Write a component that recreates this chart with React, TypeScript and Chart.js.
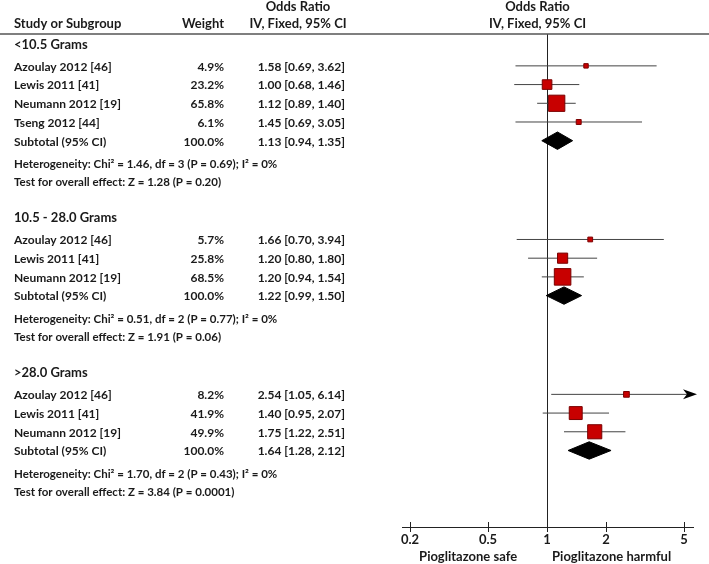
import { useEffect, useRef } from 'react';
import { Chart, registerables } from 'chart.js';

Chart.register(...registerables);

const FONT = "Lato, 'DejaVu Sans', sans-serif";

// ---------- data ----------
const groupNames = ['<10.5 Grams', '10.5 - 28.0 Grams', '>28.0 Grams'];
const studyNames = [
  ['Azoulay 2012 [46]', 'Lewis 2011 [41]', 'Neumann 2012 [19]', 'Tseng 2012 [44]'],
  ['Azoulay 2012 [46]', 'Lewis 2011 [41]', 'Neumann 2012 [19]'],
  ['Azoulay 2012 [46]', 'Lewis 2011 [41]', 'Neumann 2012 [19]'],
];
const studyWeights = [
  [4.9, 23.2, 65.8, 6.1],
  [5.7, 25.8, 68.5],
  [8.2, 41.9, 49.9],
];
const studyOR = [
  [1.58, 1.0, 1.12, 1.45],
  [1.66, 1.2, 1.2],
  [2.54, 1.4, 1.75],
];
const studyLower = [
  [0.69, 0.68, 0.89, 0.69],
  [0.7, 0.8, 0.94],
  [1.05, 0.95, 1.22],
];
const studyUpper = [
  [3.62, 1.46, 1.4, 3.05],
  [3.94, 1.8, 1.54],
  [6.14, 2.07, 2.51],
];
const subtotalWeight = [100.0, 100.0, 100.0];
const subtotalOR = [1.13, 1.22, 1.64];
const subtotalLower = [0.94, 0.99, 1.28];
const subtotalUpper = [1.35, 1.5, 2.12];
const hetChi2 = ['1.46', '0.51', '1.70'];
const hetDf = [3, 2, 2];
const hetP = ['0.69', '0.77', '0.43'];
const hetI2 = [0, 0, 0];
const effectZ = ['1.28', '1.91', '3.84'];
const effectP = ['0.20', '0.06', '0.0001'];
const tickValues = [0.2, 0.5, 1, 2, 5];
const tickLabels = ['0.2', '0.5', '1', '2', '5'];
const axisMin = 0.182;
const axisMax = 5.55;
const leftLabel = 'Pioglitazone safe';
const rightLabel = 'Pioglitazone harmful';

// ---------- layout (row positions in row units) ----------
type Row = { kind: 'group' | 'study' | 'subtotal' | 'het' | 'test'; y: number; g: number; s: number };
const rows: Row[] = [];
(() => {
  let y = 0.45;
  groupNames.forEach((_, g) => {
    if (g > 0) y += 1.9;
    rows.push({ kind: 'group', y, g, s: -1 });
    y += 1.2;
    studyNames[g].forEach((__, s) => {
      if (s > 0) y += 1.0;
      rows.push({ kind: 'study', y, g, s });
    });
    y += 1.0;
    rows.push({ kind: 'subtotal', y, g, s: -1 });
    y += 1.2;
    rows.push({ kind: 'het', y, g, s: -1 });
    y += 0.98;
    rows.push({ kind: 'test', y, g, s: -1 });
  });
})();
const Y_MAX = 26.3;
const DIAMOND_HALF = 0.465;

const f2 = (v: number) => v.toFixed(2);
const ciText = (or: number, lo: number, hi: number) => `${f2(or)} [${f2(lo)}, ${f2(hi)}]`;

export default function App() {
  const ref = useRef<HTMLCanvasElement | null>(null);

  useEffect(() => {
    document.body.style.margin = '0';
    const canvas = ref.current;
    if (!canvas) return;

    const studyRows = rows.filter((r) => r.kind === 'study');
    const subRows = rows.filter((r) => r.kind === 'subtotal');

    const squares = {
      label: 'studies',
      data: studyRows.map((r) => ({ x: studyOR[r.g][r.s], y: r.y })),
      pointStyle: 'rect',
      pointRadius: studyRows.map((r) => Math.sqrt(studyWeights[r.g][r.s]) * 1.414),
      backgroundColor: '#c80000',
      borderColor: '#7a0000',
      borderWidth: 1,
      showLine: false,
      order: 0,
    };

    const ciLines = studyRows.map((r) => ({
      label: 'ci',
      data: [
        { x: studyLower[r.g][r.s], y: r.y },
        { x: studyUpper[r.g][r.s], y: r.y },
      ],
      showLine: true,
      borderColor: '#444',
      borderWidth: 1,
      pointRadius: 0,
      order: 2,
    }));

    const diamonds = subRows.map((r) => ({
      label: 'subtotal',
      data: [
        { x: subtotalLower[r.g], y: r.y },
        { x: subtotalOR[r.g], y: r.y - DIAMOND_HALF },
        { x: subtotalUpper[r.g], y: r.y },
        { x: subtotalOR[r.g], y: r.y + DIAMOND_HALF },
        { x: subtotalLower[r.g], y: r.y },
      ],
      showLine: true,
      fill: 'shape',
      backgroundColor: '#000',
      borderColor: '#000',
      borderWidth: 1,
      pointRadius: 0,
      tension: 0,
      order: 1,
    }));

    const forestPlugin = {
      id: 'forest',
      beforeDatasetsDraw(chart: any) {
        const { ctx, chartArea, scales } = chart;
        const x1 = Math.round(scales.x.getPixelForValue(1)) + 0.5;
        ctx.save();
        ctx.strokeStyle = '#222';
        ctx.lineWidth = 1;
        ctx.beginPath();
        ctx.moveTo(x1, chartArea.top - 1);
        ctx.lineTo(x1, chartArea.bottom);
        ctx.stroke();
        ctx.restore();
      },
      afterDatasetsDraw(chart: any) {
        const { ctx, scales } = chart;
        ctx.save();
        ctx.fillStyle = '#000';
        studyRows.forEach((r) => {
          if (studyUpper[r.g][r.s] > scales.x.max) {
            const y = scales.y.getPixelForValue(r.y);
            const tip = scales.x.right + 4;
            ctx.beginPath();
            ctx.moveTo(tip, y);
            ctx.lineTo(tip - 14, y - 5);
            ctx.lineTo(tip - 10, y);
            ctx.lineTo(tip - 14, y + 5);
            ctx.closePath();
            ctx.fill();
          }
        });
        ctx.restore();
      },
      afterDraw(chart: any) {
        const { ctx, chartArea, scales, width } = chart;
        const xs = scales.x;
        const ys = scales.y;
        ctx.save();
        // upper halves of axis ticks
        ctx.strokeStyle = '#222';
        ctx.lineWidth = 1;
        tickValues.forEach((v) => {
          const x = Math.round(xs.getPixelForValue(v)) + 0.5;
          ctx.beginPath();
          ctx.moveTo(x, chartArea.bottom - 5);
          ctx.lineTo(x, chartArea.bottom);
          ctx.stroke();
        });

        // header rule
        ctx.strokeStyle = '#555';
        ctx.lineWidth = 1.5;
        ctx.beginPath();
        ctx.moveTo(0, chartArea.top - 1);
        ctx.lineTo(width, chartArea.top - 1);
        ctx.stroke();

        ctx.fillStyle = '#1a1a1a';
        ctx.textBaseline = 'middle';
        const x1 = xs.getPixelForValue(1);
        const plotCenter = (xs.left + xs.right) / 2 - 10;
        const hTop = chartArea.top - 28;
        const hBot = chartArea.top - 11;

        ctx.font = `bold 13px ${FONT}`;
        ctx.textAlign = 'left';
        ctx.fillText('Study or Subgroup', 14, hBot);
        ctx.textAlign = 'right';
        ctx.fillText('Weight', 224, hBot);
        ctx.textAlign = 'center';
        ctx.fillText('Odds Ratio', 298, hTop);
        ctx.fillText('IV, Fixed, 95% CI', 298, hBot);
        ctx.fillText('Odds Ratio', plotCenter, hTop);
        ctx.fillText('IV, Fixed, 95% CI', plotCenter, hBot);

        rows.forEach((r) => {
          const y = ys.getPixelForValue(r.y) + 1;
          if (r.kind === 'group') {
            ctx.font = `bold 13px ${FONT}`;
            ctx.textAlign = 'left';
            ctx.fillText(groupNames[r.g], 14, y);
          } else if (r.kind === 'study') {
            ctx.font = `bold 12px ${FONT}`;
            ctx.textAlign = 'left';
            ctx.fillText(studyNames[r.g][r.s], 14, y);
            ctx.textAlign = 'right';
            ctx.fillText(`${studyWeights[r.g][r.s].toFixed(1)}%`, 224, y);
            ctx.fillText(ciText(studyOR[r.g][r.s], studyLower[r.g][r.s], studyUpper[r.g][r.s]), 345, y);
          } else if (r.kind === 'subtotal') {
            ctx.font = `bold 12px ${FONT}`;
            ctx.textAlign = 'left';
            ctx.fillText('Subtotal (95% CI)', 14, y);
            ctx.textAlign = 'right';
            ctx.fillText(`${subtotalWeight[r.g].toFixed(1)}%`, 224, y);
            ctx.fillText(ciText(subtotalOR[r.g], subtotalLower[r.g], subtotalUpper[r.g]), 345, y);
          } else if (r.kind === 'het') {
            ctx.font = `bold 11.5px ${FONT}`;
            ctx.textAlign = 'left';
            ctx.fillText(
              `Heterogeneity: Chi\u00B2 = ${hetChi2[r.g]}, df = ${hetDf[r.g]} (P = ${hetP[r.g]}); I\u00B2 = ${hetI2[r.g]}%`,
              14,
              y
            );
          } else {
            ctx.font = `bold 11.5px ${FONT}`;
            ctx.textAlign = 'left';
            ctx.fillText(`Test for overall effect: Z = ${effectZ[r.g]} (P = ${effectP[r.g]})`, 14, y);
          }
        });

        ctx.font = `bold 13px ${FONT}`;
        const by = chartArea.bottom + 30;
        ctx.textAlign = 'right';
        ctx.fillText(leftLabel, x1 - 30, by);
        ctx.textAlign = 'left';
        ctx.fillText(rightLabel, x1 + 5, by);
        ctx.restore();
      },
    };

    const chart = new Chart(canvas, {
      type: 'scatter',
      data: { datasets: [squares, ...diamonds, ...ciLines] as any },
      options: {
        responsive: false,
        animation: false,
        events: [],
        layout: { padding: { left: 402, right: 16, top: 35, bottom: 0 } },
        plugins: { legend: { display: false }, tooltip: { enabled: false } },
        scales: {
          x: {
            type: 'logarithmic',
            min: axisMin,
            max: axisMax,
            position: 'bottom',
            afterBuildTicks: (s: any) => {
              s.ticks = tickValues.map((v) => ({ value: v }));
            },
            afterFit: (s: any) => {
              s.height = 37;
            },
            grid: { display: true, drawOnChartArea: false, drawTicks: true, tickLength: 5, color: '#222', lineWidth: 1 },
            border: { display: true, color: '#222', width: 1 },
            ticks: {
              autoSkip: false,
              maxRotation: 0,
              minRotation: 0,
              padding: 0,
              color: '#1a1a1a',
              font: { family: FONT, size: 13, weight: 'bold' },
              callback: (v: any) => {
                const i = tickValues.indexOf(Number(v));
                return i >= 0 ? tickLabels[i] : '';
              },
            },
          },
          y: { type: 'linear', min: 0, max: Y_MAX, reverse: true, display: false },
        },
      } as any,
      plugins: [forestPlugin],
    });
    return () => chart.destroy();
  }, []);

  return <canvas ref={ref} width={709} height={564} style={{ display: 'block', width: 709, height: 564 }} />;
}
